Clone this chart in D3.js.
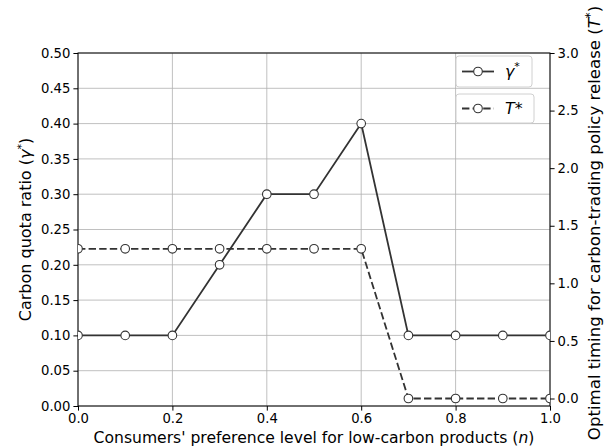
<!DOCTYPE html>
<html><head><meta charset="utf-8">
<script src="https://cdn.jsdelivr.net/npm/d3@7"></script>
<style>body{margin:0;background:#fff}svg{display:block}text{font-family:"DejaVu Sans",sans-serif}</style>
</head><body><svg id="c" width="607" height="448"></svg>
<script>
const nValues = [0.0,0.1,0.2,0.3,0.4,0.5,0.6,0.7,0.8,0.9,1.0];
const gammaValues = [0.1,0.1,0.1,0.2,0.3,0.3,0.4,0.1,0.1,0.1,0.1];
const tValues = [1.3,1.3,1.3,1.3,1.3,1.3,1.3,0.0,0.0,0.0,0.0];
const xTicks = [0,0.2,0.4,0.6,0.8,1.0];
const leftTicks = [0,0.05,0.1,0.15,0.2,0.25,0.3,0.35,0.4,0.45,0.5];
const rightTicks = [0,0.5,1.0,1.5,2.0,2.5,3.0];

const svg = d3.select("#c");
const L=78,R=550,T=53,B=406;
const x = d3.scaleLinear().domain([0,1]).range([L,R]);
const yL = d3.scaleLinear().domain([0,0.5]).range([B,T]);
const yR = d3.scaleLinear().domain([-0.065,3.0]).range([B,T]);
const col="#333333";

svg.append("defs").append("clipPath").attr("id","clip").append("rect")
  .attr("x",L).attr("y",T).attr("width",R-L).attr("height",B-T);

// grid
const g = svg.append("g");
g.selectAll(".gx").data(xTicks).join("line").attr("x1",d=>x(d)).attr("x2",d=>x(d))
  .attr("y1",T).attr("y2",B).attr("stroke","#b0b0b0").attr("stroke-width",0.8);
g.selectAll(".gy").data(leftTicks).join("line").attr("y1",d=>yL(d)).attr("y2",d=>yL(d))
  .attr("x1",L).attr("x2",R).attr("stroke","#b0b0b0").attr("stroke-width",0.8);

// axes
const fmt2=d3.format(".2f"), fmt1=d3.format(".1f");
const ax = svg.append("g").attr("transform",`translate(0,${B})`)
  .call(d3.axisBottom(x).tickValues(xTicks).tickFormat(fmt1).tickSize(4.6).tickPadding(3));
const ayl = svg.append("g").attr("transform",`translate(${L},0)`)
  .call(d3.axisLeft(yL).tickValues(leftTicks).tickFormat(fmt2).tickSize(4.6).tickPadding(3));
const ayr = svg.append("g").attr("transform",`translate(${R},0)`)
  .call(d3.axisRight(yR).tickValues(rightTicks).tickFormat(fmt1).tickSize(4.6).tickPadding(3));
[ax,ayl,ayr].forEach(a=>{a.selectAll("text").attr("font-size",13.2).attr("fill","#000").style("font-family","DejaVu Sans");
  a.selectAll("line").attr("stroke","#000").attr("stroke-width",1);
  a.select(".domain").remove();});
svg.append("rect").attr("x",L).attr("y",T).attr("width",R-L).attr("height",B-T)
  .attr("fill","none").attr("stroke","#000").attr("stroke-width",1);

// lines
const pg = svg.append("g").attr("clip-path","url(#clip)");
const lineG = d3.line().x((d,i)=>x(nValues[i])).y(d=>yL(d));
const lineT = d3.line().x((d,i)=>x(nValues[i])).y(d=>yR(d));
pg.append("path").attr("d",lineG(gammaValues)).attr("fill","none").attr("stroke",col).attr("stroke-width",1.8);
pg.selectAll(".mg").data(gammaValues).join("circle").attr("cx",(d,i)=>x(nValues[i])).attr("cy",d=>yL(d))
  .attr("r",4.3).attr("fill","#fff").attr("stroke",col).attr("stroke-width",1.1);
pg.append("path").attr("d",lineT(tValues)).attr("fill","none").attr("stroke",col).attr("stroke-width",1.8)
  .attr("stroke-dasharray","7.4,3.2");
pg.selectAll(".mt").data(tValues).join("circle").attr("cx",(d,i)=>x(nValues[i])).attr("cy",d=>yR(d))
  .attr("r",4.3).attr("fill","#fff").attr("stroke",col).attr("stroke-width",1.1);

// labels
const xl = svg.append("text").attr("x",(L+R)/2).attr("y",443).attr("text-anchor","middle").attr("font-size",15.6);
xl.append("tspan").text("Consumers' preference level for low-carbon products (");
xl.append("tspan").attr("font-style","italic").text("n");
xl.append("tspan").text(")");

const yl = svg.append("text").attr("transform",`translate(31,${(T+B)/2}) rotate(-90)`).attr("text-anchor","middle").attr("font-size",16);
yl.append("tspan").text("Carbon quota ratio (");
yl.append("tspan").attr("font-style","italic").text("γ");
yl.append("tspan").attr("font-size",11).attr("dy",-6).text("*");
yl.append("tspan").attr("dy",6).text(")");

const yr = svg.append("text").attr("transform",`translate(600,223) rotate(-90)`).attr("text-anchor","middle").attr("font-size",16.6);
yr.append("tspan").text("Optimal timing for carbon-trading policy release (");
yr.append("tspan").attr("font-style","italic").text("T");
yr.append("tspan").attr("font-size",11.6).attr("dy",-6.5).text("*");
yr.append("tspan").attr("dy",6.5).text(")");

// legends
function legend(y0,h,w,dashed,build){
  const lg = svg.append("g");
  lg.append("rect").attr("x",456).attr("y",y0).attr("width",w).attr("height",h).attr("rx",3)
    .attr("fill","#fff").attr("fill-opacity",0.8).attr("stroke","#d0d0d0").attr("stroke-width",1);
  const cy=y0+h/2;
  lg.append("line").attr("x1",462).attr("x2",494).attr("y1",cy).attr("y2",cy).attr("stroke",col).attr("stroke-width",1.8)
    .attr("stroke-dasharray",dashed?"7.4,3.2":null);
  lg.append("circle").attr("cx",478).attr("cy",cy).attr("r",4.3).attr("fill","#fff").attr("stroke",col).attr("stroke-width",1.1);
  const t = lg.append("text").attr("x",505).attr("y",cy+5.5).attr("font-size",15.8);
  build(t);
}
legend(56,31,76,false,t=>{t.append("tspan").attr("font-style","italic").text("γ");t.append("tspan").attr("font-size",11).attr("dy",-7).text("*");});
legend(94,29,78,true,t=>{t.append("tspan").attr("font-style","italic").text("T");t.append("tspan").text("*");});
</script></body></html>
